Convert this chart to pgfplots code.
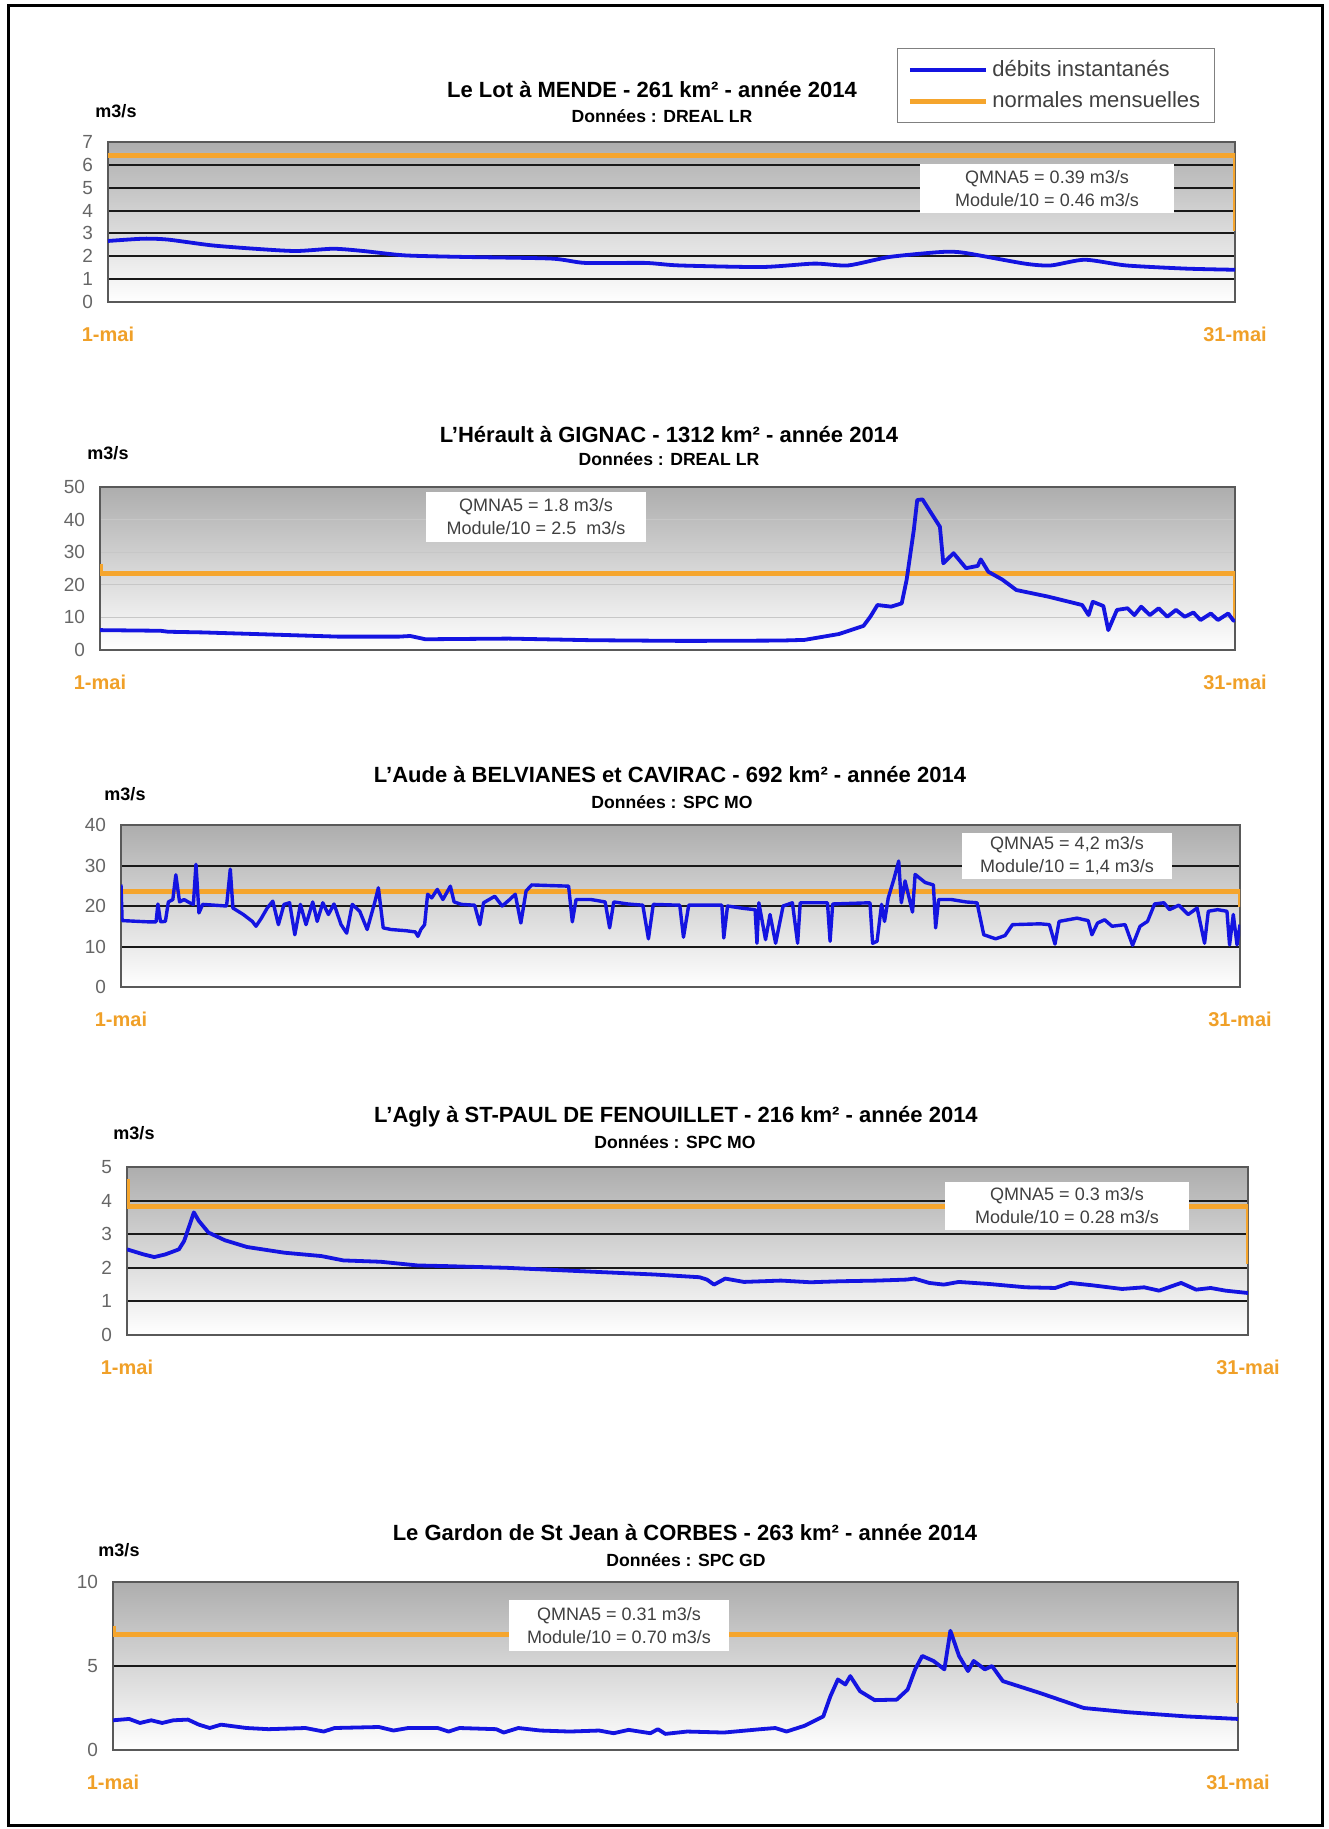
\documentclass[border=0pt]{standalone}
\usepackage{fontspec}
\setmainfont{Liberation Sans}
\usepackage{pgfplots}
\pgfplotsset{compat=1.18}
\definecolor{dblue}{RGB}{20,20,225}
\definecolor{dorange}{RGB}{245,165,45}
\definecolor{labor}{RGB}{240,160,40}
\newcommand\tfont{\bfseries\fontsize{11}{13}\selectfont}
\newcommand\dfont{\bfseries\fontsize{8.8}{10}\selectfont}
\newcommand\qfont{\fontsize{9}{11.5}\selectfont}
\pgfplotsset{
  riverax/.style={
    scale only axis,
    anchor=south west,
    xmin=1, xmax=31,
    xtick={1,31}, xticklabels={1-mai,31-mai},
    x tick label style={font=\bfseries\fontsize{10}{12}\selectfont, text=labor, yshift=-9pt},
    major tick length=0pt,
    ymin=0,
    ymajorgrids,
    grid style={black!90, line width=1pt},
    axis background/.style={top color=black!32, bottom color=white},
    axis line style={draw=black!65, line width=1.1pt},
    yticklabel style={font=\fontsize{9.5}{10}\selectfont, text=black!60, xshift=-4pt},
    /pgf/number format/assume math mode=true,
    legend image code/.code={\draw[##1] (0pt,0pt) -- (38pt,0pt);},
  },
  blueline/.style={color=dblue, line width=1.9pt, line join=round},
  orangeline/.style={color=dorange, line width=2.5pt},
}
\begin{document}
\begin{tikzpicture}
\useasboundingbox (0,0) rectangle (664pt,-914.5pt);
\draw[line width=1.5pt] (4.25pt,-3pt) rectangle (661pt,-912.5pt);

% ---------- Chart 1 : Le Lot a MENDE ----------
\begin{axis}[riverax, at={(54pt,-151pt)}, width=563.5pt, height=80pt,
  ymax=7, ytick distance=1,
  legend style={at={(0.700,1.5875)}, anchor=north west, draw=black!50, fill=white,
    font=\fontsize{11}{13}\selectfont, text=black!75, inner xsep=5pt, inner ysep=4pt,
    row sep=2pt, /tikz/every even column/.style={column sep=2pt}},
  legend cell align=left]
\addlegendimage{blueline}
\addlegendentry{débits instantanés}
\addlegendimage{orangeline}
\addlegendentry{normales mensuelles}
\addplot[orangeline, forget plot] coordinates {(1,6.4) (31,6.4) (31,3.1)};
\addplot[blueline, smooth, tension=0.4, forget plot] coordinates {
(1,2.67) (1.95,2.77) (2.6,2.73) (3.75,2.48) (4.9,2.33) (6,2.23) (7,2.33) (7.8,2.23)
(8.9,2.04) (10.5,1.97) (12.8,1.9) (13.7,1.71) (15.3,1.71) (16.2,1.6) (18.4,1.53)
(19.8,1.68) (20.7,1.6) (21.8,1.97) (23.2,2.19) (23.8,2.15) (25.4,1.68) (26.1,1.6)
(27,1.85) (28.1,1.6) (29.7,1.46) (31,1.41)};
\end{axis}
\node[font=\tfont] at (326pt,-45pt) {Le Lot à MENDE - 261 km² - année 2014};
\node[font=\dfont] at (331pt,-58pt) {Données : DREAL LR};
\node[font=\bfseries\fontsize{9}{10}\selectfont] at (58pt,-55.5pt) {m3/s};
\node[fill=white, align=center, font=\qfont, text=black!75, minimum width=127pt, minimum height=24.5pt, inner sep=1pt] at (523.5pt,-94.25pt) {QMNA5 = 0.39 m3/s\\Module/10 = 0.46 m3/s};

% ---------- Chart 2 : L'Herault a GIGNAC ----------
\begin{axis}[riverax, at={(50pt,-325pt)}, width=567.5pt, height=81.5pt,
  ymax=50, ytick distance=10, grid style={black!22, line width=0.5pt}]
\addplot[orangeline] coordinates {(1,26.4) (1,23.6) (31,23.6) (31,9)};
\addplot[blueline] coordinates {
(1,6.1) (2.6,5.9) (2.8,5.6) (3.7,5.4) (5.1,4.9) (7.3,4.1) (8.9,4.1) (9.2,4.3) (9.6,3.3)
(11.8,3.5) (14,3.0) (16.3,2.8) (16.86,2.8) (19.0,2.9) (19.62,3.1) (20.53,4.9) (21.18,7.4)
(21.36,10.2) (21.55,13.8) (21.91,13.3) (22.19,14.3) (22.32,21.5) (22.51,36.8) (22.6,46)
(22.74,46.2) (22.92,42.9) (23.2,37.8) (23.29,26.6) (23.56,29.7) (23.89,25.1) (24.2,25.8)
(24.28,27.8) (24.48,24) (24.85,21.6) (25.22,18.4) (26.05,16.4) (26.96,13.8) (27.13,10.7)
(27.24,14.8) (27.52,13.5) (27.65,6.1) (27.88,12.3) (28.16,12.8) (28.34,10.7) (28.52,13.3)
(28.75,10.7) (28.98,12.8) (29.21,10.2) (29.44,12.3) (29.67,10.2) (29.9,11.5) (30.09,9.2)
(30.36,11.2) (30.55,9.2) (30.82,11.2) (30.96,9.0) (31,9.5)};
\end{axis}
\node[font=\tfont] at (334.5pt,-217.5pt) {L'Hérault à GIGNAC - 1312 km² - année 2014};
\node[font=\dfont] at (334.5pt,-229.5pt) {Données : DREAL LR};
\node[font=\bfseries\fontsize{9}{10}\selectfont] at (54pt,-226.5pt) {m3/s};
\node[fill=white, align=center, font=\qfont, text=black!75, minimum width=110pt, minimum height=25pt, inner sep=1pt] at (268pt,-258.5pt) {QMNA5 = 1.8 m3/s\\Module/10 = 2.5\ \ m3/s};

% ---------- Chart 3 : L'Aude ----------
\begin{axis}[riverax, at={(60.5pt,-493.5pt)}, width=559.5pt, height=81pt,
  ymax=40, ytick distance=10]
\addplot[orangeline] coordinates {(1,23.7) (31,23.7) (31,19.8)};
\addplot[blueline, line width=1.7pt] coordinates {
(1.00,25.3) (1.03,16.4) (1.70,16.1) (1.94,16.1) (1.99,20.5) (2.06,16.1) (2.19,16.2)
(2.27,21.0) (2.39,21.6) (2.47,27.7) (2.57,21.0) (2.69,21.6) (2.84,20.8) (2.94,20.4)
(3.01,30.3) (3.09,18.3) (3.19,20.4) (3.83,20.0) (3.93,29.1) (4.00,19.5) (4.28,17.9)
(4.52,16.2) (4.62,15.0) (4.77,17.1) (4.92,19.5) (5.07,21.2) (5.22,15.4) (5.37,20.4)
(5.52,20.8) (5.66,12.9) (5.81,20.4) (5.96,15.4) (6.14,21.0) (6.26,16.2) (6.41,20.8)
(6.56,17.9) (6.71,20.5) (6.90,15.4) (7.05,13.3) (7.20,20.4) (7.40,18.7) (7.60,14.2)
(7.80,20.8) (7.90,24.5) (8.03,14.6) (8.24,14.2) (8.64,13.9) (8.89,13.6) (8.96,12.5)
(9.04,14.2) (9.14,15.4) (9.22,22.9) (9.33,22.0) (9.48,24.1) (9.63,21.6) (9.83,24.9)
(9.93,21.0) (10.13,20.4) (10.48,20.2) (10.62,15.4) (10.72,20.8) (11.02,22.4) (11.22,20.0)
(11.42,21.6) (11.57,22.9) (11.72,15.8) (11.86,23.7) (12.01,25.2) (13.00,24.9) (13.10,16.1)
(13.20,21.6) (13.60,21.6) (13.98,21.0) (14.10,14.6) (14.21,21.0) (14.59,20.5) (14.99,20.2)
(15.14,11.9) (15.27,20.4) (15.98,20.2) (16.08,12.3) (16.22,20.2) (17.11,20.2) (17.16,12.1)
(17.26,20.0) (17.70,19.4) (18.00,19.1) (18.05,10.8) (18.10,20.8) (18.28,11.7) (18.40,17.9)
(18.55,10.8) (18.75,20.0) (19.00,20.8) (19.14,10.8) (19.21,20.8) (19.94,20.8) (20.01,11.3)
(20.08,20.5) (21.08,20.8) (21.15,10.8) (21.27,11.3) (21.39,20.4) (21.47,16.2) (21.57,22.0)
(21.72,26.6) (21.85,31.1) (21.92,20.8) (22.02,26.2) (22.22,18.5) (22.29,27.8) (22.56,25.8)
(22.78,25.2) (22.84,14.6) (22.92,21.6) (23.26,21.6) (23.66,21.0) (23.95,20.8) (24.13,12.9)
(24.45,11.9) (24.70,12.7) (24.90,15.4) (25.64,15.6) (25.89,15.4) (26.04,10.6) (26.15,16.2)
(26.63,17.0) (26.93,16.4) (27.03,12.9) (27.18,15.8) (27.37,16.6) (27.57,15.0) (27.92,15.4)
(28.12,10.3) (28.32,15.0) (28.52,16.2) (28.71,20.5) (28.96,20.8) (29.11,19.1) (29.36,20.2)
(29.61,17.9) (29.85,19.5) (30.05,10.8) (30.15,18.7) (30.40,19.1) (30.65,18.7) (30.72,10.4)
(30.82,17.9) (30.92,10.4) (31.0,15.4)};
\end{axis}
\node[font=\tfont] at (335pt,-387.5pt) {L'Aude à BELVIANES et CAVIRAC - 692 km² - année 2014};
\node[font=\dfont] at (336pt,-401pt) {Données : SPC MO};
\node[font=\bfseries\fontsize{9}{10}\selectfont] at (62.5pt,-397pt) {m3/s};
\node[fill=white, align=center, font=\qfont, text=black!75, minimum width=105pt, minimum height=23pt, inner sep=1pt] at (533.5pt,-428pt) {QMNA5 = 4,2 m3/s\\Module/10 = 1,4 m3/s};

% ---------- Chart 4 : L'Agly ----------
\begin{axis}[riverax, at={(63.5pt,-667.5pt)}, width=560.5pt, height=84pt,
  ymax=5, ytick distance=1]
\addplot[orangeline] coordinates {(1,4.65) (1,3.82) (31,3.82) (31,2.1)};
\addplot[blueline] coordinates {
(1,2.55) (1.44,2.4) (1.73,2.32) (2.03,2.4) (2.39,2.55) (2.53,2.8) (2.79,3.65) (2.92,3.4)
(3.18,3.05) (3.62,2.82) (4.21,2.62) (5.21,2.45) (6.2,2.35) (6.79,2.22) (7.79,2.18)
(8.78,2.07) (9.57,2.05) (11.16,2.0) (13.14,1.9) (15.13,1.8) (16.32,1.72) (16.52,1.65)
(16.71,1.5) (17.01,1.68) (17.51,1.58) (18.5,1.62) (19.29,1.57) (20.09,1.6) (21.08,1.62)
(21.87,1.65) (22.07,1.68) (22.47,1.55) (22.86,1.5) (23.26,1.58) (24.06,1.52) (25.05,1.42)
(25.84,1.4) (26.24,1.55) (26.83,1.48) (27.63,1.37) (28.22,1.42) (28.62,1.32) (29.21,1.55)
(29.61,1.35) (30.0,1.4) (30.4,1.32) (31,1.25)};
\end{axis}
\node[font=\tfont] at (338pt,-558.5pt) {L'Agly à ST-PAUL DE FENOUILLET - 216 km² - année 2014};
\node[font=\dfont] at (337.5pt,-571pt) {Données : SPC MO};
\node[font=\bfseries\fontsize{9}{10}\selectfont] at (67pt,-566.5pt) {m3/s};
\node[fill=white, align=center, font=\qfont, text=black!75, minimum width=122pt, minimum height=24pt, inner sep=1pt] at (533.5pt,-603pt) {QMNA5 = 0.3 m3/s\\Module/10 = 0.28 m3/s};

% ---------- Chart 5 : Le Gardon de St Jean ----------
\begin{axis}[riverax, at={(56.5pt,-875pt)}, width=562.5pt, height=84pt,
  ymax=10, ytick={0,5,10}]
\addplot[orangeline] coordinates {(1,7.4) (1,6.9) (31,6.9) (31,2.8)};
\addplot[blueline] coordinates {
(1,1.77) (1.43,1.85) (1.72,1.61) (2.02,1.77) (2.31,1.61) (2.61,1.77) (3.0,1.81) (3.29,1.51)
(3.58,1.31) (3.88,1.51) (4.56,1.31) (5.15,1.24) (6.13,1.31) (6.62,1.1) (6.91,1.31)
(8.09,1.37) (8.48,1.16) (8.87,1.31) (9.66,1.31) (9.95,1.1) (10.24,1.31) (11.22,1.24)
(11.42,1.04) (11.81,1.31) (12.4,1.16) (13.18,1.1) (13.96,1.16) (14.35,1.0) (14.75,1.2)
(15.33,1.0) (15.53,1.24) (15.73,0.96) (16.31,1.1) (17.29,1.04) (18.27,1.24) (18.66,1.31)
(18.96,1.1) (19.45,1.45) (19.94,2.0) (20.13,3.2) (20.33,4.2) (20.53,3.9) (20.66,4.4)
(20.92,3.5) (21.31,2.97) (21.9,3.0) (22.19,3.6) (22.39,4.8) (22.58,5.6) (22.88,5.3)
(23.17,4.8) (23.33,7.1) (23.56,5.6) (23.8,4.7) (23.95,5.3) (24.25,4.8) (24.44,5.0)
(24.73,4.1) (25.71,3.4) (26.89,2.5) (28.06,2.25) (29.63,2.0) (31,1.85)};
\end{axis}
\node[font=\tfont] at (342.5pt,-766.5pt) {Le Gardon de St Jean à CORBES - 263 km² - année 2014};
\node[font=\dfont] at (343pt,-780pt) {Données : SPC GD};
\node[font=\bfseries\fontsize{9}{10}\selectfont] at (59.5pt,-775pt) {m3/s};
\node[fill=white, align=center, font=\qfont, text=black!75, minimum width=110pt, minimum height=25.5pt, inner sep=1pt] at (309.5pt,-812.75pt) {QMNA5 = 0.31 m3/s\\Module/10 = 0.70 m3/s};
\end{tikzpicture}
\end{document}
